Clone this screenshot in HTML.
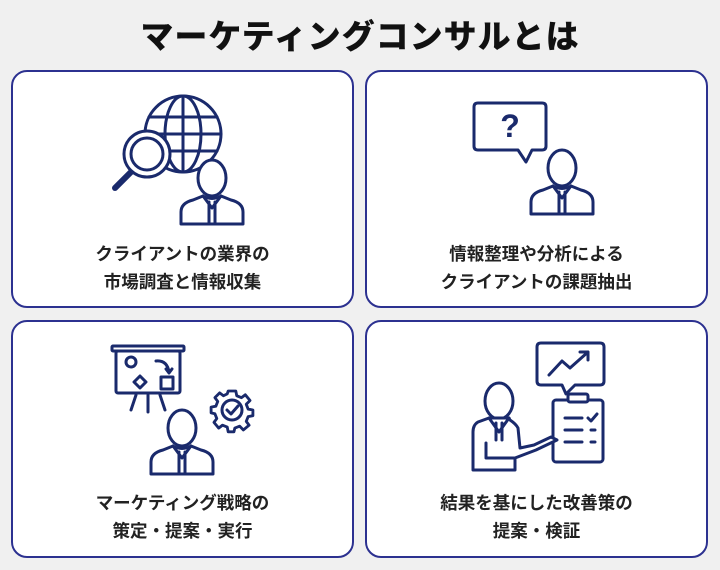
<!DOCTYPE html>
<html><head><meta charset="utf-8"><style>
body{margin:0;width:720px;height:570px;background:#f0f0f0;overflow:hidden;font-family:"Liberation Sans","Noto Sans CJK JP",sans-serif;position:relative}
.t{position:absolute;top:10px;left:0;width:720px;text-align:center;font-size:33px;font-weight:900;color:#111;letter-spacing:1px}
.c{position:absolute;width:339px;height:234px;border:2px solid #2c3190;border-radius:16px;background:#fff}
.l{position:absolute;width:100%;text-align:center;font-size:17.5px;font-weight:700;color:#222;line-height:28px}
svg{position:absolute;left:0;top:0}
</style></head><body>
<div class="t">マーケティングコンサルとは</div>
<div class="c" style="left:11px;top:70px"><div class="l" style="top:168px">クライアントの業界の<br>市場調査と情報収集</div></div>
<div class="c" style="left:365px;top:70px"><div class="l" style="top:168px">情報整理や分析による<br>クライアントの課題抽出</div></div>
<div class="c" style="left:11px;top:320px"><div class="l" style="top:167px">マーケティング戦略の<br>策定・提案・実行</div></div>
<div class="c" style="left:365px;top:320px"><div class="l" style="top:167px">結果を基にした改善策の<br>提案・検証</div></div>
<svg width="720" height="570" fill="none" stroke="#1a2a6c" stroke-width="3" stroke-linecap="round" stroke-linejoin="round">
<defs>
<g id="p"><path d="M-31 44 V32 Q-31 23 -19 20 L-9 16 Q0 21 9 16 L19 20 Q31 23 31 32 V44 Z" fill="#fff"/><ellipse cx="0" cy="-2" rx="14" ry="18" fill="#fff"/><path d="M-9 16 L0 28 L9 16 M-3 22 L-3 44 M3 22 L3 44"/></g>
</defs>
<!-- card1 -->
<circle cx="183" cy="134" r="38"/><ellipse cx="183" cy="134" rx="18" ry="38"/><path d="M183 96V172M145 134H221M149 117H217M149 151H217"/>
<path d="M115 188L132 171" stroke-width="6"/><circle cx="147" cy="154" r="23" fill="#fff"/><circle cx="147" cy="154" r="16"/>
<use href="#p" x="212" y="180"/>
<!-- card2 -->
<path d="M478 103H542Q546 103 546 107V146Q546 150 542 150H532L526 162L518 150H478Q474 150 474 146V107Q474 103 478 103Z"/>
<text x="510" y="137" font-size="32" fill="#1a2a6c" stroke="none" text-anchor="middle" font-family="Liberation Sans" font-weight="bold">?</text>
<use href="#p" x="562" y="170"/>
<!-- card3 -->
<rect x="112" y="346" width="72" height="5" rx="1"/><rect x="116" y="351" width="64" height="42" rx="2"/>
<path d="M136 395L131 410M148 395V412M160 395L165 410"/>
<circle cx="131" cy="362" r="5"/><path d="M140 376L146 382L140 388L134 382Z"/><rect x="161" y="377" width="12" height="12"/><path d="M156 361Q167 360 169 372M166 369L169 373L172 369"/>
<g transform="translate(232 410)"><circle r="10"/><path d="M-5 0L-1 4L6 -4"/>
<path d="M-4 -20H4L5 -15L10 -13L14 -16L19 -10L15 -6L17 -1L22 0V6L17 7L15 12L18 16L12 21L8 17L3 19L2 23H-4L-5 18L-10 16L-14 19L-19 13L-16 9L-18 4L-22 3V-3L-17 -4L-15 -9L-18 -13L-13 -18L-9 -15L-5 -17Z" transform="scale(.95)"/></g>
<use href="#p" x="182" y="430"/>
<!-- card4 -->
<path d="M541 343H600Q604 343 604 347V381Q604 385 600 385H575L566 394L562 385H541Q537 385 537 381V347Q537 343 541 343Z"/>
<path d="M549 375L562 361L570 368L588 352M580 352H588V360"/>
<rect x="553" y="400" width="50" height="62" rx="3" fill="#fff"/><rect x="568" y="394" width="20" height="8" rx="2" fill="#fff"/>
<path d="M565 418H582M588 418L591 421L597 414M565 430H582M591 430H595M565 442H582M591 442H595"/>
<ellipse cx="499" cy="401" rx="14" ry="18" fill="#fff"/>
<path d="M489 418L478 422Q473 425 473 432V470H515V458L536 450L557 440L551 437L534 445L520 448L518 428Q516 424 510 420L509 418Z" fill="#fff"/>
<path d="M489 418L499 432L509 418M496 423V440M502 423V440M486 443V458H515"/>
</svg>
</body></html>
